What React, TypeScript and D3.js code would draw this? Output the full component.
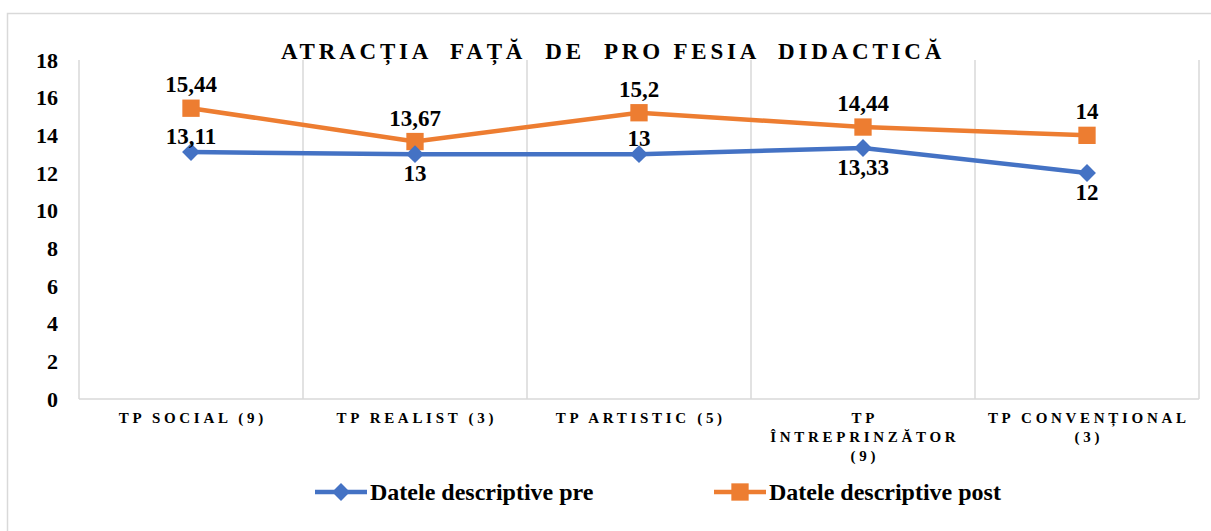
import { useEffect, useRef } from "react";
import * as d3 from "d3";

const categories = [
  ["TP SOCIAL (9)"],
  ["TP REALIST (3)"],
  ["TP ARTISTIC (5)"],
  ["TP", "ÎNTREPRINZĂTOR", "(9)"],
  ["TP CONVENȚIONAL", "(3)"],
];
const preValues = [13.11, 13, 13, 13.33, 12];
const postValues = [15.44, 13.67, 15.2, 14.44, 14];
const yTicks = [0, 2, 4, 6, 8, 10, 12, 14, 16, 18];
const title = "ATRACȚIA  FAȚĂ  DE  PRO FESIA  DIDACTICĂ";
const seriesNames = ["Datele descriptive pre", "Datele descriptive post"];

// where each label sits relative to its marker
const prePlacement = ["above", "below", "above", "below", "below"];

const BLUE = "#4472C4";
const ORANGE = "#ED7D31";
const GRID = "#d9d9d9";
const FONT = "Liberation Serif, Tinos, Times New Roman, DejaVu Serif, serif";

export default function App() {
  const svgRef = useRef<SVGSVGElement>(null);

  useEffect(() => {
    if (!svgRef.current) return;
    const svg = d3.select(svgRef.current);
    svg.selectAll("*").remove();

    const width = 1211;
    const height = 531;
    const margin = { top: 60, right: 12, bottom: 132, left: 79 };

    const keys = categories.map((c) => c.join(" "));
    const x = d3.scaleBand().domain(keys).range([margin.left, width - margin.right]);
    const y = d3.scaleLinear().domain([0, 18]).range([height - margin.bottom, margin.top]);
    const cx = (i: number) => x(keys[i])! + x.bandwidth() / 2;

    // outer frame
    svg
      .append("rect")
      .attr("x", 7.5)
      .attr("y", 13.5)
      .attr("width", width + 20)
      .attr("height", height + 20)
      .attr("fill", "white")
      .attr("stroke", GRID)
      .attr("stroke-width", 1.5);

    // vertical gridlines at category borders
    const borders = keys.map((k) => x(k)!).concat([x(keys[keys.length - 1])! + x.bandwidth()]);
    svg
      .append("g")
      .selectAll("line")
      .data(borders)
      .enter()
      .append("line")
      .attr("x1", (d) => d)
      .attr("x2", (d) => d)
      .attr("y1", y(18))
      .attr("y2", y(0))
      .attr("stroke", GRID)
      .attr("stroke-width", 1.5);

    // x axis line
    svg
      .append("line")
      .attr("x1", margin.left)
      .attr("x2", width - margin.right)
      .attr("y1", y(0))
      .attr("y2", y(0))
      .attr("stroke", GRID)
      .attr("stroke-width", 1.5);

    // y tick labels
    svg
      .append("g")
      .selectAll("text")
      .data(yTicks)
      .enter()
      .append("text")
      .attr("x", 58)
      .attr("y", (d) => y(d))
      .attr("dy", "0.35em")
      .attr("text-anchor", "end")
      .style("font-family", FONT)
      .attr("font-weight", "bold")
      .attr("font-size", 22)
      .text((d) => d);

    // x category labels
    const xl = svg.append("g");
    categories.forEach((lines, i) => {
      const t = xl
        .append("text")
        .attr("text-anchor", "middle")
        .style("font-family", FONT)
        .attr("font-weight", "bold")
        .attr("font-size", 15)
        .attr("letter-spacing", 3.7);
      lines.forEach((ln, j) => {
        t.append("tspan")
          .attr("x", cx(i) + 1.8)
          .attr("y", y(0) + 24 + j * 19)
          .text(ln);
      });
    });

    // title
    svg
      .append("text")
      .attr("x", 613)
      .attr("y", 59)
      .attr("text-anchor", "middle")
      .style("font-family", FONT)
      .attr("font-weight", "bold")
      .attr("font-size", 23)
      .attr("letter-spacing", 3.8)
      .style("white-space", "pre")
      .text(title);

    const line = d3
      .line<number>()
      .x((_, i) => cx(i))
      .y((d) => y(d));

    const fmt = (v: number) => String(v).replace(".", ",");

    // post series
    svg
      .append("path")
      .datum(postValues)
      .attr("d", line)
      .attr("fill", "none")
      .attr("stroke", ORANGE)
      .attr("stroke-width", 4.5)
      .attr("stroke-linejoin", "round");
    // pre series
    svg
      .append("path")
      .datum(preValues)
      .attr("d", line)
      .attr("fill", "none")
      .attr("stroke", BLUE)
      .attr("stroke-width", 4.5)
      .attr("stroke-linejoin", "round");

    const square = d3.symbol().type(d3.symbolSquare).size(300);
    const diamond = d3.symbol().type(d3.symbolSquare).size(160);

    svg
      .append("g")
      .selectAll("path")
      .data(postValues)
      .enter()
      .append("path")
      .attr("d", square)
      .attr("transform", (d, i) => `translate(${cx(i)},${y(d)})`)
      .attr("fill", ORANGE);

    svg
      .append("g")
      .selectAll("path")
      .data(preValues)
      .enter()
      .append("path")
      .attr("d", diamond)
      .attr("transform", (d, i) => `translate(${cx(i)},${y(d)}) rotate(45)`)
      .attr("fill", BLUE);

    // data labels
    svg
      .append("g")
      .selectAll("text")
      .data(postValues)
      .enter()
      .append("text")
      .attr("x", (_, i) => cx(i))
      .attr("y", (d) => y(d) - 16)
      .attr("text-anchor", "middle")
      .style("font-family", FONT)
      .attr("font-weight", "bold")
      .attr("font-size", 23)
      .text((d) => fmt(d));

    svg
      .append("g")
      .selectAll("text")
      .data(preValues)
      .enter()
      .append("text")
      .attr("x", (_, i) => cx(i))
      .attr("y", (d, i) => (prePlacement[i] === "above" ? y(d) - 8 : y(d) + 27))
      .attr("text-anchor", "middle")
      .style("font-family", FONT)
      .attr("font-weight", "bold")
      .attr("font-size", 23)
      .text((d) => fmt(d));

    // legend
    const legend = svg.append("g");
    const legendItems = [
      { name: seriesNames[0], color: BLUE, sym: diamond, rot: 45, x: 315 },
      { name: seriesNames[1], color: ORANGE, sym: square, rot: 0, x: 714 },
    ];
    legendItems.forEach((it) => {
      const ly = 492;
      legend
        .append("line")
        .attr("x1", it.x)
        .attr("x2", it.x + 52)
        .attr("y1", ly)
        .attr("y2", ly)
        .attr("stroke", it.color)
        .attr("stroke-width", 4.5);
      legend
        .append("path")
        .attr("d", it.sym)
        .attr("transform", `translate(${it.x + 26},${ly}) rotate(${it.rot})`)
        .attr("fill", it.color);
      legend
        .append("text")
        .attr("x", it.x + 55)
        .attr("y", ly)
        .attr("dy", "0.35em")
        .style("font-family", FONT)
        .attr("font-weight", "bold")
        .attr("font-size", 24)
        .text(it.name);
    });
  }, []);

  return (
    <svg
      ref={svgRef}
      width={1211}
      height={531}
      style={{ position: "absolute", left: 0, top: 0, display: "block", background: "white" }}
    />
  );
}
